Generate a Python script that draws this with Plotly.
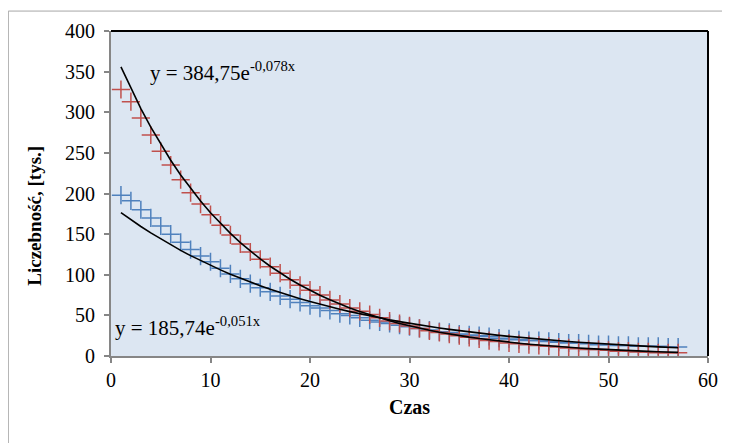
import numpy as np
import plotly.graph_objects as go

czas = list(range(1, 58))
red_vals = [328, 313, 293, 272, 252, 235, 217, 201, 187, 174, 161, 149, 138, 128, 119,
            110, 102, 94, 87, 81, 75, 69, 64, 59, 55, 51, 47, 43, 40, 37, 34, 31, 29, 27,
            25, 23, 21, 19, 18, 16, 15, 14, 13, 12, 11, 10, 9, 8, 8, 7, 6, 6, 5, 5, 4, 4, 4]
blue_vals = [198, 191, 180, 170, 160, 150, 140, 131, 123, 116, 108, 101, 95, 89, 84,
             79, 74, 70, 66, 62, 59, 56, 52, 50, 47, 44, 42, 40, 38, 36, 34, 32, 30, 29,
             27, 26, 25, 24, 22, 21, 20, 19, 19, 18, 17, 16, 16, 15, 14, 14, 13, 13, 12,
             12, 12, 11, 11]
# displayed trendline equations y = a*exp(b*x)
red_a, red_b = 384.75, -0.078
blue_a, blue_b = 185.74, -0.051
y_ticks = [0, 50, 100, 150, 200, 250, 300, 350, 400]
x_ticks = [0, 10, 20, 30, 40, 50, 60]

xs = np.array(czas, dtype=float)
red_trend = red_a * np.exp(red_b * xs)
blue_trend = blue_a * np.exp(blue_b * xs)

RED = "#c0504d"
BLUE = "#4f81bd"
FONT = "Liberation Serif"

fig = go.Figure()
fig.add_trace(go.Scatter(x=czas, y=blue_vals, mode="markers",
                         marker=dict(symbol="cross-thin", size=13,
                                     line=dict(color=BLUE, width=1.5)),
                         showlegend=False))
fig.add_trace(go.Scatter(x=czas, y=red_vals, mode="markers",
                         marker=dict(symbol="cross-thin", size=13,
                                     line=dict(color=RED, width=1.5)),
                         showlegend=False))
fig.add_trace(go.Scatter(x=czas, y=red_trend, mode="lines",
                         line=dict(color="black", width=1.6), showlegend=False))
fig.add_trace(go.Scatter(x=czas, y=blue_trend, mode="lines",
                         line=dict(color="black", width=1.6), showlegend=False))

fig.add_annotation(x=3.75, y=350, xref="x", yref="y", xanchor="left", yanchor="middle",
                   text="y = 384,75e<sup>-0,078x</sup>", showarrow=False,
                   font=dict(family=FONT, size=21, color="black"))
fig.add_annotation(x=0.25, y=36, xref="x", yref="y", xanchor="left", yanchor="middle",
                   text="y = 185,74e<sup>-0,051x</sup>", showarrow=False,
                   font=dict(family=FONT, size=21, color="black"))
# y axis title
fig.add_annotation(x=-0.1285, y=0.4325, xref="paper", yref="paper",
                   xanchor="center", yanchor="middle", textangle=-90,
                   text="<b>Liczebność, [tys.]</b>", showarrow=False,
                   font=dict(family=FONT, size=19, color="black"))

# outer chart border
fig.add_shape(type="rect", xref="paper", yref="paper",
              x0=-0.172, x1=1.06, y0=-0.3, y1=1.0613,
              line=dict(color="#a6a6a6", width=1), layer="below")
# plot area top/right black border
fig.add_shape(type="line", xref="paper", yref="paper", x0=0, x1=1, y0=1, y1=1,
              line=dict(color="black", width=2))
fig.add_shape(type="line", xref="paper", yref="paper", x0=1, x1=1, y0=0, y1=1,
              line=dict(color="black", width=2))

fig.update_layout(
    width=722, height=435,
    margin=dict(l=103, r=20, t=22, b=87),
    paper_bgcolor="white",
    plot_bgcolor="#dce6f2",
    font=dict(family=FONT, size=20, color="black"),
    xaxis=dict(range=[0, 60], tickvals=x_ticks, showgrid=False, zeroline=False,
               showline=True, linecolor="#868686", linewidth=2,
               ticks="outside", ticklen=5, tickcolor="#868686", tickwidth=1.5,
               tickfont=dict(family=FONT, size=20),
               title=dict(text="<b>Czas</b>", font=dict(family=FONT, size=20), standoff=10)),
    yaxis=dict(range=[0, 400], tickvals=y_ticks, showgrid=False, zeroline=False,
               showline=True, linecolor="#868686", linewidth=2,
               ticks="outside", ticklen=5, tickcolor="#868686", tickwidth=1.5,
               ticklabelstandoff=5,
               tickfont=dict(family=FONT, size=20)),
)

fig.write_html("out.html")
